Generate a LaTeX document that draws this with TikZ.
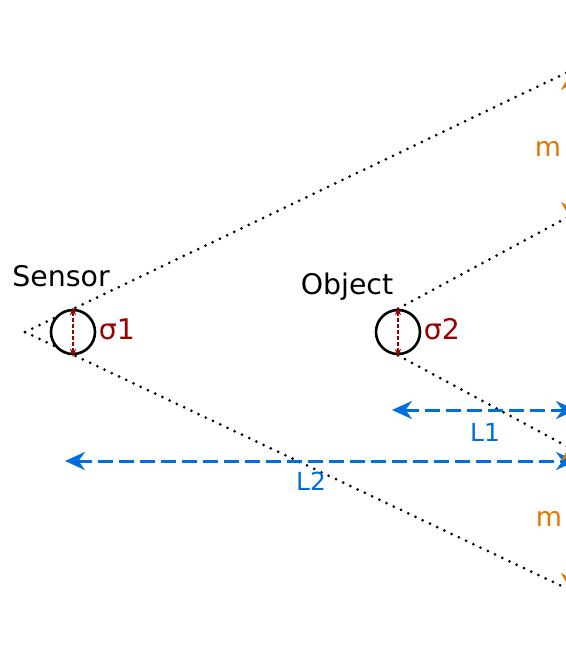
\documentclass[tikz,border=0pt]{standalone}
\usepackage{fontspec}
\setmainfont{DejaVu Sans}
\usetikzlibrary{arrows.meta}
\definecolor{sigred}{RGB}{153,0,0}
\definecolor{dimblue}{RGB}{0,110,220}
\definecolor{dimorange}{RGB}{224,120,0}
\tikzset{
  dotline/.style={line width=3bp, line cap=round, dash pattern=on 0bp off 8bp},
  circ/.style={circle, draw=black, fill=white, line width=2.6bp, minimum size=44bp, inner sep=0pt},
  sigarrow/.style={sigred, line width=1.3bp, dash pattern=on 4bp off 2bp, {Stealth[length=8bp,width=6bp]}-{Stealth[length=8bp,width=6bp]}},
  bluearrow/.style={dimblue, line width=3bp, dash pattern=on 15bp off 6bp, {Stealth[length=20bp,width=18bp]}-{Stealth[length=20bp,width=18bp]}},
  orangearrow/.style={dimorange, line width=3bp, {Stealth[length=16bp,width=18bp]}-{Stealth[length=16bp,width=18bp]}},
  bigtxt/.style={font=\fontsize{28.5}{32}\selectfont, inner sep=0pt},
  sigtxt/.style={font=\fontsize{28.5}{32}\selectfont, text=sigred, inner sep=0pt},
  bluetxt/.style={font=\fontsize{25}{30}\selectfont, text=dimblue, inner sep=0pt},
  orangetxt/.style={font=\fontsize{27}{30}\selectfont, text=dimorange, inner sep=0pt}
}
\begin{document}
\begin{tikzpicture}[x=1bp,y=-1bp]
\useasboundingbox (0,0) rectangle (566,664);
\clip (0,0) rectangle (566,664);
% geometry
\coordinate (apex) at (25,332);
\coordinate (ut) at (568,72);
\coordinate (lb) at (568,589);
\coordinate (ot) at (568,217);
\coordinate (ob) at (568,447);
% main dotted cone
\draw[dotline] (apex) -- (ut);
\draw[dotline] (apex) -- (lb);
% circles
\node[circ] (s) at (73,332) {};
\node[circ] (o) at (398,332) {};
% object cone
\draw[dotline] (o.north) -- (ot);
\draw[dotline] (o.south) -- (ob);
% sigma arrows
\draw[sigarrow] ([yshift=1.5bp]s.north) -- ([yshift=-1.5bp]s.south);
\draw[sigarrow] ([yshift=1.5bp]o.north) -- ([yshift=-1.5bp]o.south);
% labels
\node[bigtxt] (sensorlbl) at (61,276) {Sensor};
\node[bigtxt] (objectlbl) at (347,287) {Object};
\node[sigtxt] (sig1) at (117,329) {σ1};
\node[sigtxt] (sig2) at (442,329) {σ2};
% blue dimension arrows
\coordinate (l1a) at (392,410);
\coordinate (l1b) at (576,410);
\coordinate (l2a) at (65,461);
\coordinate (l2b) at (576,461);
\draw[bluearrow] (l1a) -- (l1b);
\draw[bluearrow] (l2a) -- (l2b);
\node[bluetxt] (l1lbl) at (485,432) {L1};
\node[bluetxt] (l2lbl) at (311,481) {L2};
% orange dimension arrows (mostly outside right edge)
\coordinate (m1a) at (570,74);
\coordinate (m1b) at (570,218);
\coordinate (m2a) at (570,445);
\coordinate (m2b) at (570,589);
\draw[orangearrow] (m1a) -- (m1b);
\draw[orangearrow] (m2a) -- (m2b);
\node[orangetxt] (m1lbl) at (548,149) {m};
\node[orangetxt] (m2lbl) at (549,519) {m};
\end{tikzpicture}
\end{document}
